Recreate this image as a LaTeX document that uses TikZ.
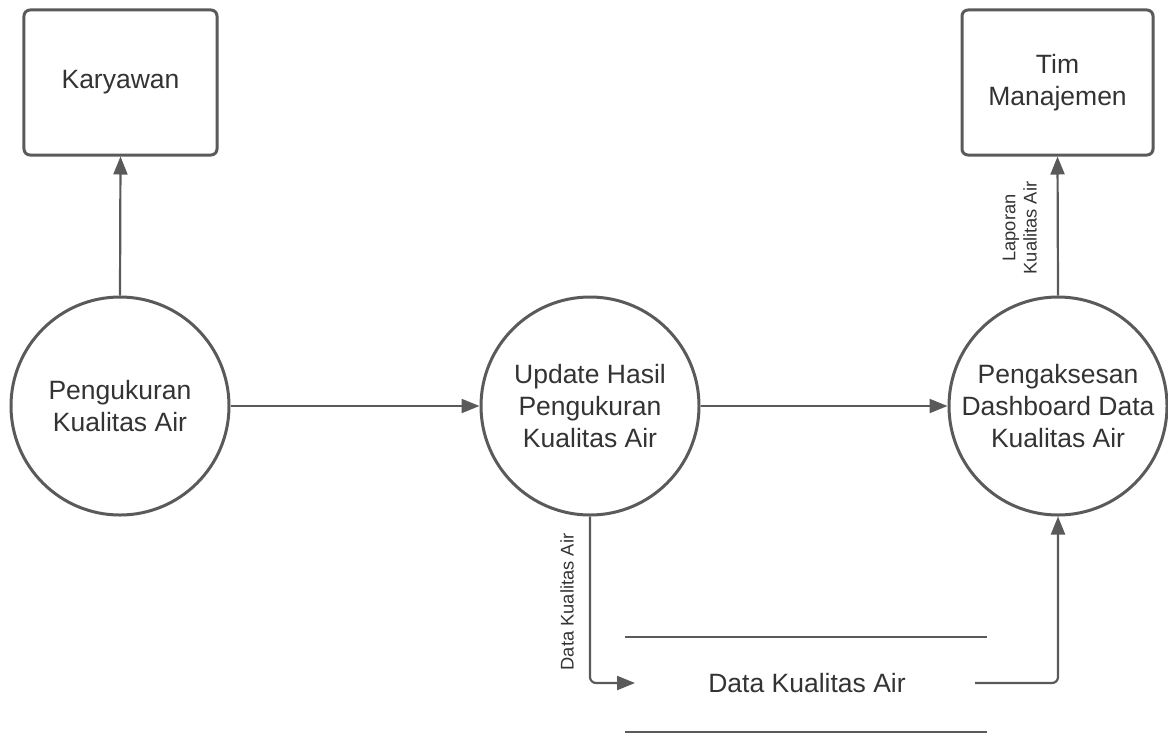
\documentclass[tikz,border=0pt]{standalone}
\usepackage{fontspec}
\setmainfont{Liberation Sans}
\usetikzlibrary{arrows.meta,calc}
\definecolor{linegray}{RGB}{90,90,90}
\definecolor{textgray}{RGB}{51,51,51}
\begin{document}
\begin{tikzpicture}[x=0.5bp,y=-0.5bp,
  every node/.style={text=textgray},
  maintext/.style={font=\fontsize{13.3}{15.9}\selectfont, align=center},
  smalltext/.style={font=\fontsize{9.2}{10.6}\selectfont, align=center},
  process/.style={circle, draw=linegray, line width=1.5bp, minimum size=109bp, inner sep=0pt, maintext},
  entity/.style={rectangle, rounded corners=3bp, draw=linegray, line width=1.5bp, minimum width=96.5bp, minimum height=72.5bp, maintext},
  flow/.style={draw=linegray, line width=1.1bp, -{Triangle[length=9bp,width=7bp]}, rounded corners=3bp},
  storeline/.style={draw=linegray, line width=1.4bp}
]
\useasboundingbox (0,0) rectangle (1168,734);

\node[entity] (kary) at (120.5,82.5) {Karyawan};
\node[entity, minimum width=95.5bp] (tim) at (1057.5,82.5) {Tim\\Manajemen};

\node[process] (c1) at (120,406) {Pengukuran\\Kualitas Air};
\node[process] (c2) at (590,406) {Update Hasil\\Pengukuran\\Kualitas Air};
\node[process] (c3) at (1058,406) {Pengaksesan\\Dashboard Data\\Kualitas Air};

\node[maintext] (store) at (807,683) {Data Kualitas Air};
\coordinate (stl) at (625,637);
\coordinate (str) at (987,637);
\coordinate (sbl) at (625,732);
\coordinate (sbr) at (987,732);
\draw[storeline] (stl) -- (str);
\draw[storeline] (sbl) -- (sbr);
\coordinate (storein) at (635,683);
\coordinate (storeout) at (975,683);

\draw[flow] (c1.north) -- (kary.south);
\draw[flow] (c1.east) -- (c2.west);
\draw[flow] (c2.east) -- (c3.west);
\draw[flow] (c3.north) -- (tim.south);
\node[smalltext, rotate=90] (lap) at ($(c3.north)!0.5!(tim.south)+(-38,2)$) {Laporan\\Kualitas Air};

\draw[flow] (c2.south) |- (storein);
\node[smalltext, rotate=90] (dka) at (567,602) {Data Kualitas Air};
\draw[flow] (storeout) -| (c3.south);
\end{tikzpicture}
\end{document}
